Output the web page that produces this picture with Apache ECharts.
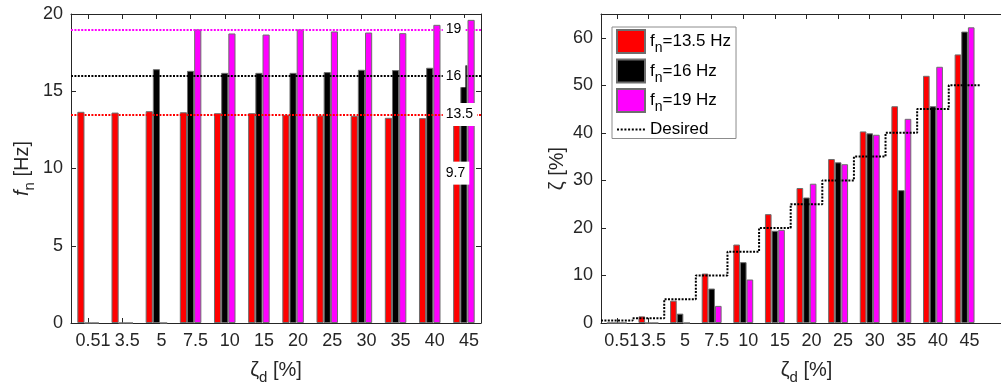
<!DOCTYPE html>
<html><head><meta charset="utf-8">
<script src="https://cdn.jsdelivr.net/npm/echarts@6/dist/echarts.min.js"></script>
<style>html,body{margin:0;padding:0;background:#fff}#c{width:1001px;height:388px}</style>
</head><body><div id="c"></div>
<script>
// ---- data ----
const tickLabels = ['0.51', '3.5', '5', '7.5', '10', '15', '20', '25', '30', '35', '40', '45'];
// left panel: natural frequency f_n [Hz]
const fnRed     = [13.67, 13.62, 13.71, 13.64, 13.58, 13.58, 13.47, 13.43, 13.41, 13.28, 13.26, 13.2];
const fnBlack   = [0, 0, 16.43, 16.32, 16.19, 16.19, 16.19, 16.24, 16.39, 16.37, 16.52, 16.7];
const fnMagenta = [0, 0, 0, 19.0, 18.74, 18.67, 19.0, 18.87, 18.8, 18.76, 19.3, 19.62];
const refLevels = [13.5, 16, 19];
const annoValues = [19, 16, 13.5, 9.7];
const annoTexts  = ['19', '16', '13.5', '9.7'];
// right panel: damping ratio zeta [%]
const zRed     = [0, 1.4, 4.7, 10.4, 16.5, 22.9, 28.4, 34.5, 40.3, 45.6, 52.0, 56.5];
const zBlack   = [0, 0, 1.97, 7.25, 12.8, 19.4, 26.4, 33.8, 39.9, 27.95, 45.6, 61.3];
const zMagenta = [0, 0, 0, 3.6, 9.15, 19.6, 29.3, 33.4, 39.6, 42.95, 53.9, 62.2];
const desired  = [0.5, 1, 5, 10, 15, 20, 25, 30, 35, 40, 45, 50];
const seriesNames = ['f_n=13.5 Hz', 'f_n=16 Hz', 'f_n=19 Hz', 'Desired'];

// ---- styles ----
const FONT = 'Liberation Sans';
const TXT = '#262626';
const RED = '#ff0000', BLK = '#000000', MAG = '#ff00ff';
const refColors = [RED, BLK, MAG];
const DOT = [2, 1.4];
const BORDER = '#6e6e6e';
// dotted legend glyph (8 small dashes)
const DOT_ICON = 'path://M0 0h2v2H0z M3.7 0h2v2H3.7z M7.4 0h2v2H7.4z M11.1 0h2v2h-2z M14.8 0h2v2h-2z M18.5 0h2v2h-2z M22.2 0h2v2h-2z M25.9 0h2v2h-2z';

const n = tickLabels.length;
const rightCats = tickLabels.concat(['']);

function catAxis(grid, pos, data, showLabel, nTicks) {
  return {
    type: 'category', gridIndex: grid, position: pos, data: data,
    axisLine: { show: true, onZero: false, lineStyle: { color: TXT, width: 1 } },
    axisTick: { show: true, inside: true, length: 5, alignWithLabel: true,
      interval: function (i) { return i < nTicks; }, lineStyle: { color: TXT } },
    axisLabel: { show: showLabel, interval: 0, margin: 9, fontSize: 18, fontFamily: FONT, color: TXT,
      padding: [0, 0, 0, 10] },
    splitLine: { show: false }
  };
}
function valAxisHidden(grid, max) {
  return { type: 'value', gridIndex: grid, min: 0.5, max: max, show: false };
}
const xName = {
  name: 'ζ{sub|d} [%]', nameLocation: 'middle', nameGap: 33,
  nameTextStyle: { fontSize: 20, fontFamily: FONT, color: TXT,
    rich: { sub: { fontSize: 15, fontFamily: FONT, color: TXT, padding: [14, 0, 0, 0] } } }
};

const xAxes = [
  Object.assign(catAxis(0, 'bottom', tickLabels, true, n), xName),
  catAxis(0, 'top', tickLabels, false, n),
  valAxisHidden(0, n + 0.5),
  Object.assign(catAxis(1, 'bottom', rightCats, true, n), xName),
  catAxis(1, 'top', rightCats, false, n),
  valAxisHidden(1, n + 1.5)
];

function yAx(grid, pos, max, interval, showLabel, extra) {
  return Object.assign({
    type: 'value', gridIndex: grid, position: pos, min: 0, max: max, interval: interval,
    axisLine: { show: true, lineStyle: { color: TXT, width: 1 } },
    axisTick: { show: true, inside: true, length: 5, lineStyle: { color: TXT } },
    axisLabel: { show: showLabel, margin: 8, fontSize: 18, fontFamily: FONT, color: TXT, showMaxLabel: max % interval === 0 },
    splitLine: { show: false }
  }, extra || {});
}
const yAxes = [
  yAx(0, 'left', 20, 5, true, {
    name: '{it|f}{sub|n} [Hz]', nameLocation: 'middle', nameRotate: 90, nameGap: 34,
    nameTextStyle: { fontSize: 20, fontFamily: FONT, color: TXT,
      rich: { it: { fontSize: 20, fontFamily: FONT, fontStyle: 'italic', color: TXT },
              sub: { fontSize: 15, fontFamily: FONT, color: TXT, padding: [14, 0, 0, 0] } } }
  }),
  yAx(0, 'right', 20, 5, false),
  yAx(1, 'left', 65, 10, true, {
    name: 'ζ [%]', nameLocation: 'middle', nameRotate: 90, nameGap: 34,
    nameTextStyle: { fontSize: 20, fontFamily: FONT, color: TXT }
  })
];

function bars(name, data, color, xi, yi) {
  return {
    type: 'bar', name: name, data: data, xAxisIndex: xi, yAxisIndex: yi,
    barGap: '0%', barCategoryGap: '37%', z: 3,
    itemStyle: { color: color, borderColor: BORDER, borderWidth: 1 },
    emphasis: { disabled: true }, animation: false
  };
}

const stairData = desired.map(function (v, i) { return [i + 0.5, v]; });
stairData.push([n + 0.5, desired[n - 1]]);

const series = [
  {
    type: 'line', name: 'refs', xAxisIndex: 0, yAxisIndex: 0, data: [], z: 1,
    markLine: { silent: true, symbol: 'none', animation: false, label: { show: false },
      data: refLevels.map(function (v, i) {
        return { yAxis: v, lineStyle: { color: refColors[i], type: DOT, width: 2 } };
      }) }
  },
  bars('L13.5', fnRed, RED, 0, 0),
  bars('L16', fnBlack, BLK, 0, 0),
  bars('L19', fnMagenta, MAG, 0, 0),
  {
    type: 'scatter', name: 'anno', xAxisIndex: 2, yAxisIndex: 0, z: 10, symbolSize: 0,
    silent: true, animation: false,
    itemStyle: { opacity: 1 },
    emphasis: { disabled: true },
    data: annoValues.map(function (v) { return [n - 0.5, v]; }),
    label: { show: true, position: 'right', distance: 0, offset: [-4, 0],
      formatter: function (p) { return annoTexts[p.dataIndex]; },
      fontSize: 14, fontFamily: FONT, color: '#000', backgroundColor: '#ffffff', opacity: 1,
      padding: [4, 4, 4, 3], lineHeight: 15 }
  },
  bars(seriesNames[0], zRed, RED, 3, 2),
  bars(seriesNames[1], zBlack, BLK, 3, 2),
  bars(seriesNames[2], zMagenta, MAG, 3, 2),
  {
    type: 'line', name: seriesNames[3], xAxisIndex: 5, yAxisIndex: 2, data: stairData,
    step: 'end', symbol: 'none', z: 5, animation: false,
    lineStyle: { color: BLK, width: 2, type: DOT }, itemStyle: { color: BLK }
  }
];

const legendText = {
  fontSize: 17, fontFamily: FONT, color: '#000',
  rich: { sub: { fontSize: 14, fontFamily: FONT, color: '#000', padding: [14, 0, 0, 0] } }
};
function legendFmt(name) { return name.replace('f_n', 'f{sub|n}'); }

const option = {
  backgroundColor: '#fff',
  animation: false,
  grid: [
    { left: 71, top: 14, width: 410, height: 309, outerBoundsMode: 'none', containLabel: false },
    { left: 601, top: 14, width: 411, height: 309, outerBoundsMode: 'none', containLabel: false }
  ],
  legend: [
    { data: seriesNames.slice(0, 3), orient: 'vertical', left: 612, top: 27,
      padding: [2, 5, 24, 4], itemGap: 3, itemWidth: 28, itemHeight: 23, icon: 'rect',
      borderColor: '#8c8c8c', borderWidth: 1, backgroundColor: '#fff', selectedMode: false,
      textStyle: legendText, formatter: legendFmt },
    { data: [seriesNames[3]], orient: 'vertical', left: 617, top: 121,
      padding: 0, itemWidth: 28, itemHeight: 2, icon: DOT_ICON, selectedMode: false,
      itemStyle: { color: BLK, borderWidth: 0 }, lineStyle: { width: 0 },
      textStyle: { fontSize: 17, fontFamily: FONT, color: '#000' } }
  ],
  xAxis: xAxes,
  yAxis: yAxes,
  series: series
};

const chart = echarts.init(document.getElementById('c'), null, { renderer: 'canvas' });
chart.setOption(option);
</script>
</body></html>
